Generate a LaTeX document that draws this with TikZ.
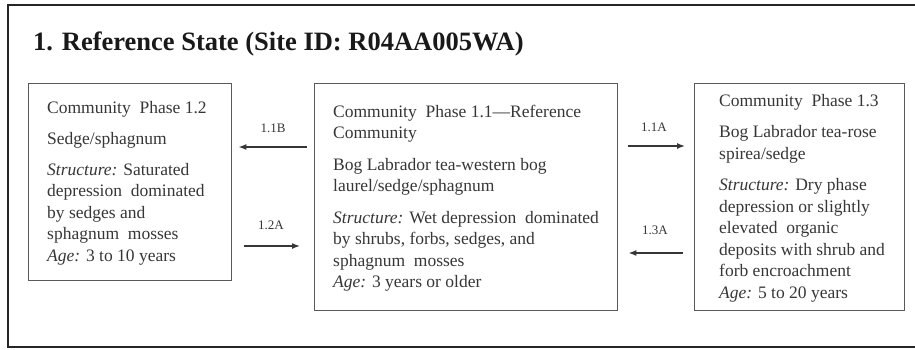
\documentclass[tikz,border=0pt]{standalone}
\usepackage{fontspec}
\setmainfont{Liberation Serif}
\usetikzlibrary{arrows.meta}
\definecolor{txt}{HTML}{363636}
\definecolor{edge}{HTML}{5A5A5A}
\tikzset{
  box/.style={draw=edge, line width=1.4pt, anchor=north west, inner sep=0pt},
  body/.style={anchor=north west, inner sep=0pt, align=left, text=txt,
    font=\fontsize{17.5}{21.5}\selectfont},
  lab/.style={anchor=base, inner sep=0pt, text=txt, font=\fontsize{13}{15}\selectfont},
  arr/.style={draw=txt, line width=1.4pt, -{Latex[length=8pt,width=6pt]}},
}
\begin{document}
\begin{tikzpicture}[x=1pt,y=-1pt]
\useasboundingbox (0,0) rectangle (915,349);
% outer frame
\draw[line width=2.4pt, black!85] (920,5) -- (8,5) -- (8,347) -- (920,347);
\node[anchor=base west, inner sep=0pt, text=black!90, font=\bfseries\fontsize{26.5}{30}\selectfont] (title) at (33,50) {1. Reference State (Site ID: R04AA005WA)};
% boxes
\node[box, minimum width=203pt, minimum height=197pt] (b12) at (28,83) {};
\node[box, minimum width=303pt, minimum height=227pt] (b11) at (314,83) {};
\node[box, minimum width=210pt, minimum height=227pt] (b13) at (694,83) {};
% texts
\node[body] (t12) at (47,113-15.05) {\strut Community\ \ Phase 1.2\\[10pt]
Sedge/sphagnum\\[9pt]
\textit{Structure:} Saturated\\
depression\ \ dominated\\
by sedges and\\
sphagnum\ \ mosses\\
\textit{Age:} 3 to 10 years};
\node[body] (t11) at (333,117-15.05) {\strut Community\ \ Phase 1.1---Reference\\
Community\\[10pt]
Bog Labrador tea-western bog\\
laurel/sedge/sphagnum\\[10pt]
\textit{Structure:} Wet depression\ \ dominated\\
by shrubs, forbs, sedges, and\\
sphagnum\ \ mosses\\
\textit{Age:} 3 years or older};
\node[body] (t13) at (719,106-15.05) {\strut Community\ \ Phase 1.3\\[10pt]
Bog Labrador tea-rose\\
spirea/sedge\\[10pt]
\textit{Structure:} Dry phase\\
depression or slightly\\
elevated\ \ organic\\
deposits with shrub and\\
forb encroachment\\
\textit{Age:} 5 to 20 years};
% arrows
\coordinate (ya) at (0,147);
\coordinate (yb) at (0,246);
\coordinate (yc) at (0,146);
\coordinate (yd) at (0,253);
\draw[arr, shorten <=7pt, shorten >=6pt] (b11.west |- ya) -- (b12.east |- ya);
\draw[arr, shorten <=12pt, shorten >=14pt] (b12.east |- yb) -- (b11.west |- yb);
\draw[arr, shorten <=10pt, shorten >=9pt] (b11.east |- yc) -- (b13.west |- yc);
\draw[arr, shorten <=11pt, shorten >=10pt] (b13.west |- yd) -- (b11.east |- yd);
\node[lab] (l11B) at (273,132) {1.1B};
\node[lab] (l12A) at (271,229) {1.2A};
\node[lab] (l11A) at (654,131) {1.1A};
\node[lab] (l13A) at (655,234) {1.3A};
\end{tikzpicture}
\end{document}
